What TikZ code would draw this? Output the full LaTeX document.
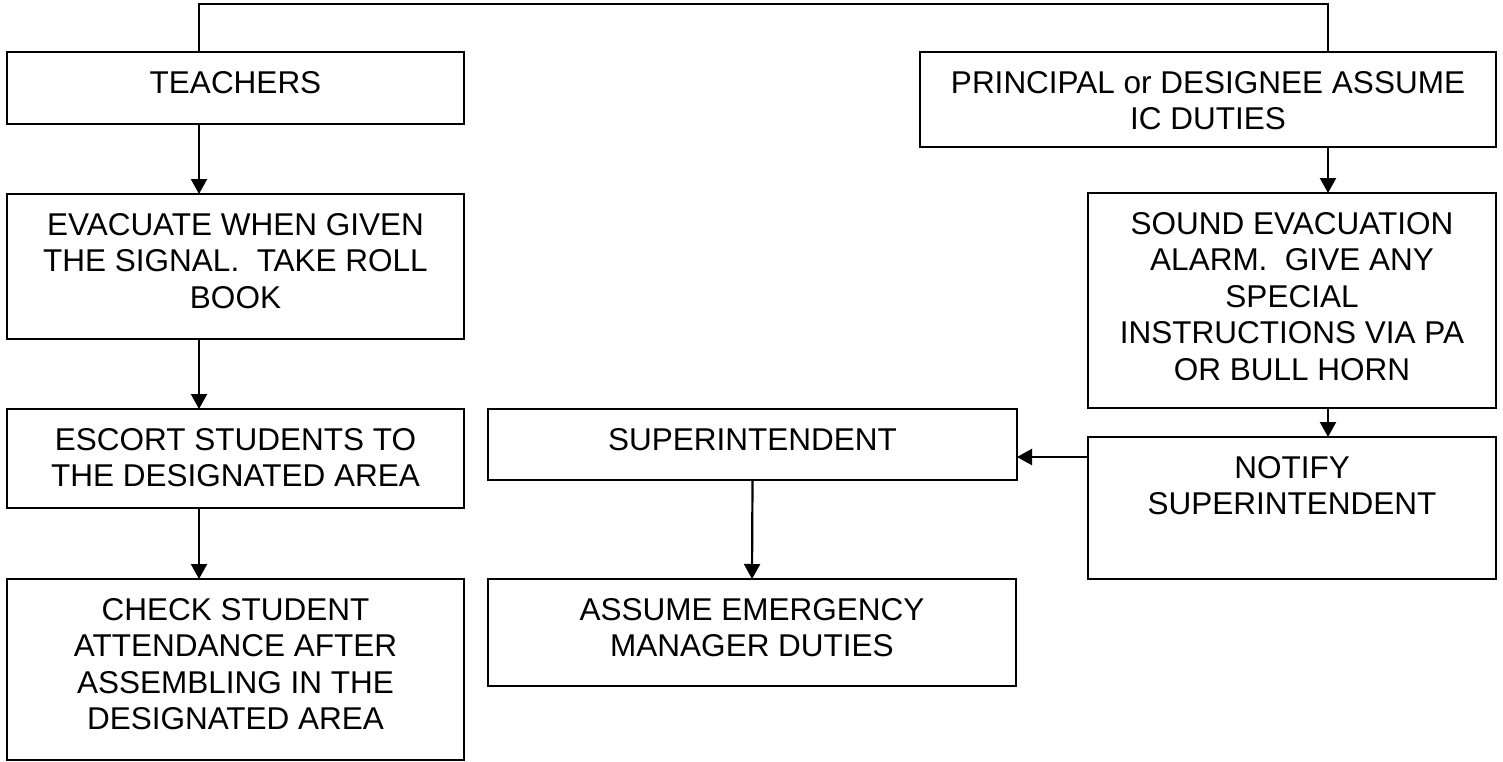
\documentclass[tikz,border=0pt]{standalone}
\usepackage{fontspec}
\setmainfont{Liberation Sans}
\usetikzlibrary{arrows.meta}
% centred lines whose baseline is that of the first line
\newcommand\boxlines[1]{\begin{tabular}[t]{@{}c@{}}#1\end{tabular}}
\begin{document}
\begin{tikzpicture}[x=1pt,y=1pt,
  box/.style={draw=black, line width=2.3pt, inner sep=0pt, outer sep=0pt, fill=white},
  txt/.style={inner sep=0pt, outer sep=0pt, anchor=base,
    font=\fontsize{31.5}{36.5}\selectfont},
  link/.style={draw=black, line width=2.2pt},
  arr/.style={link, -{Triangle[length=15pt,width=16pt]}}]
\useasboundingbox[fill=white] (0,0) rectangle (1503,-761);

% column positions of the off-centre connectors
\coordinate (leftx) at (199,0);
\coordinate (rightx) at (1328,0);
\coordinate (rail) at (760,-4);
\coordinate (linky) at (0,-457);

% left column: teachers
\node[box, minimum width=457pt, minimum height=72pt]  (teach)  at (235.5,-88) {};
\node[box, minimum width=457pt, minimum height=145pt] (evac)   at (235.5,-266.5) {};
\node[box, minimum width=457pt, minimum height=99pt]  (escort) at (235.5,-458.5) {};
\node[box, minimum width=457pt, minimum height=181pt] (check)  at (235.5,-669.5) {};

% middle column: superintendent
\node[box, minimum width=529pt, minimum height=71pt]  (super)  at (752.5,-444.5) {};
\node[box, minimum width=528pt, minimum height=107pt] (assume) at (752,-632.5) {};

% right column: principal
\node[box, minimum width=576pt, minimum height=95pt]  (princ)  at (1208,-99.5) {};
\node[box, minimum width=408pt, minimum height=215pt] (sound)  at (1292,-300.5) {};
\node[box, minimum width=408pt, minimum height=142pt] (notify) at (1292,-508) {};

% box texts, set from the top of each box
\node[txt] (teachT)  at ([yshift=-41pt]teach.north)  {\boxlines{TEACHERS}};
\node[txt] (evacT)   at ([yshift=-41pt]evac.north)   {\boxlines{EVACUATE WHEN GIVEN\\THE SIGNAL.\ \ TAKE ROLL\\BOOK}};
\node[txt] (escortT) at ([yshift=-41pt]escort.north) {\boxlines{ESCORT STUDENTS TO\\THE DESIGNATED AREA}};
\node[txt] (checkT)  at ([yshift=-41pt]check.north)  {\boxlines{CHECK STUDENT\\ATTENDANCE AFTER\\ASSEMBLING IN THE\\DESIGNATED AREA}};
\node[txt] (superT)  at ([yshift=-41pt]super.north)  {\boxlines{SUPERINTENDENT}};
\node[txt] (assumeT) at ([yshift=-41pt]assume.north) {\boxlines{ASSUME EMERGENCY\\MANAGER DUTIES}};
\node[txt] (princT)  at ([yshift=-41pt]princ.north)  {\boxlines{PRINCIPAL or DESIGNEE ASSUME\\IC DUTIES}};
\node[txt] (soundT)  at ([yshift=-41pt]sound.north)  {\boxlines{SOUND EVACUATION\\ALARM.\ \ GIVE ANY\\SPECIAL\\INSTRUCTIONS VIA PA\\OR BULL HORN}};
\node[txt] (notifyT) at ([yshift=-41pt]notify.north) {\boxlines{NOTIFY\\SUPERINTENDENT}};

% top rail joining the two columns
\draw[link] (teach.north -| leftx) |- (rail) -| (princ.north -| rightx);

% left column flow
\draw[arr] (teach.south -| leftx)  -- (evac.north -| leftx);
\draw[arr] (evac.south -| leftx)   -- (escort.north -| leftx);
\draw[arr] (escort.south -| leftx) -- (check.north -| leftx);

% right column flow
\draw[arr] (princ.south -| rightx) -- (sound.north -| rightx);
\draw[arr] (sound.south -| rightx) -- (notify.north -| rightx);

% notify -> superintendent -> emergency manager
\draw[arr] (notify.west |- linky) -- (super.east |- linky);
\draw[arr] (super.south) -- (assume.north);
\end{tikzpicture}
\end{document}
